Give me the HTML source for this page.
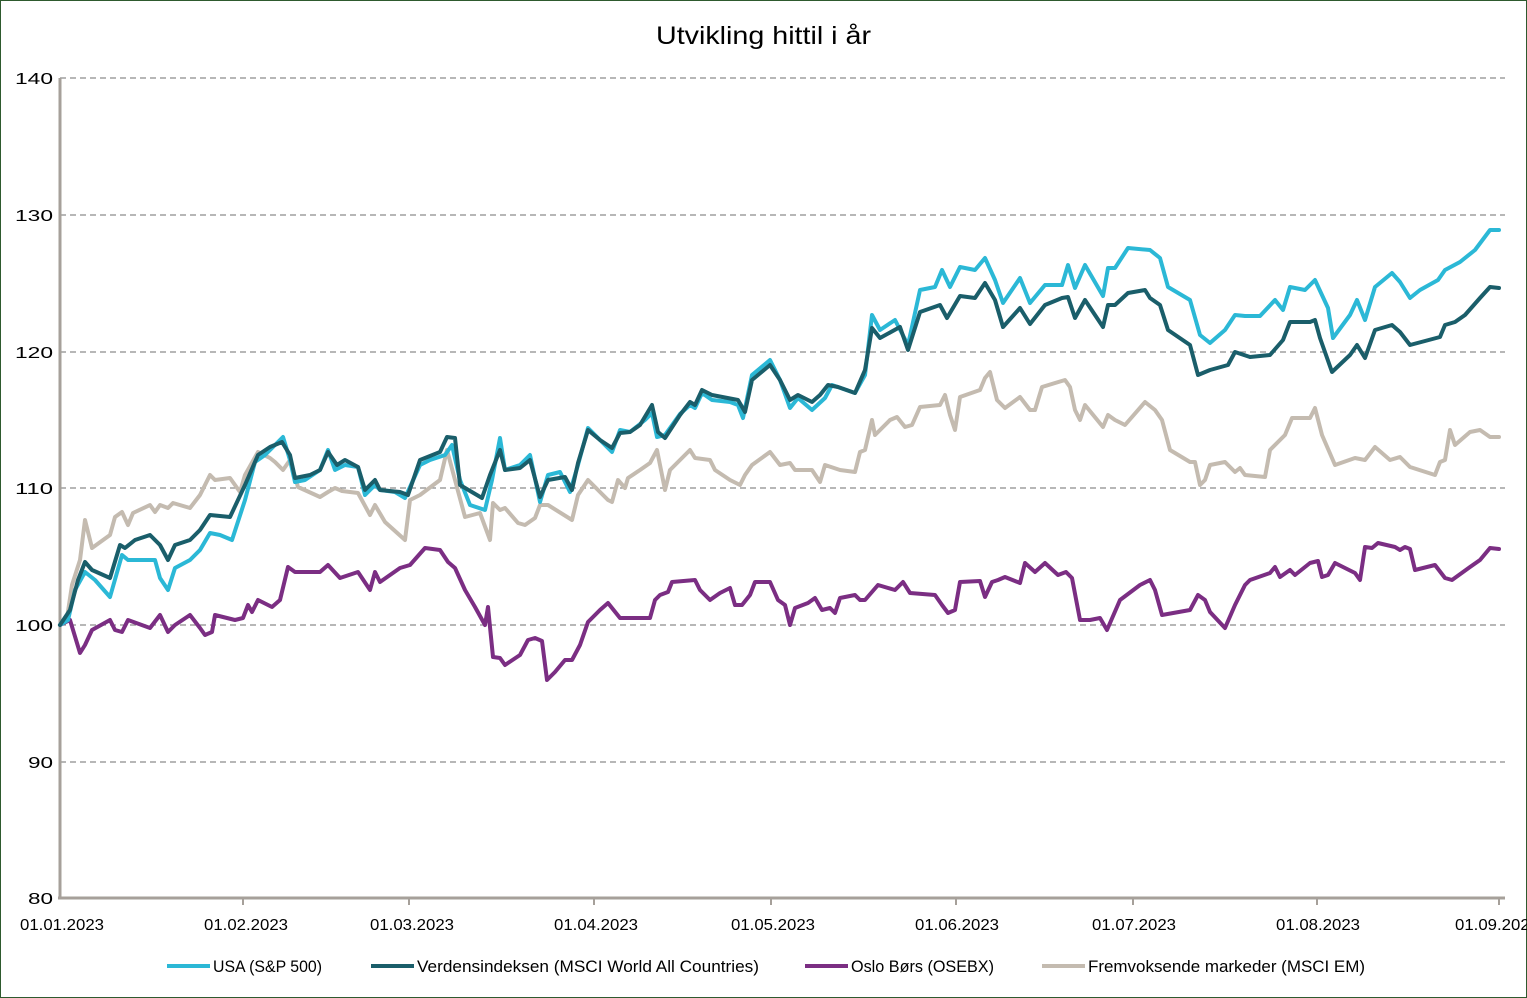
<!DOCTYPE html>
<html><head><meta charset="utf-8"><style>
html,body{margin:0;padding:0;background:#fff}
svg{display:block;font-family:"Liberation Sans",sans-serif}
</style></head><body>
<svg width="1527" height="998" viewBox="0 0 1527 998">
<rect x="0.5" y="0.5" width="1526" height="997" fill="#fff" stroke="#2e5a2e" stroke-width="1"/>
<text x="656" y="44" font-size="25" textLength="215" lengthAdjust="spacingAndGlyphs" fill="#000">Utvikling hittil i år</text>
<g stroke="#8c8c8c" stroke-width="1.2" stroke-dasharray="6,4">
<line x1="60" y1="78" x2="1505" y2="78"/><line x1="60" y1="215" x2="1505" y2="215"/>
<line x1="60" y1="352" x2="1505" y2="352"/><line x1="60" y1="488" x2="1505" y2="488"/>
<line x1="60" y1="625" x2="1505" y2="625"/><line x1="60" y1="762" x2="1505" y2="762"/>
</g>
<g stroke="#a6a09a" stroke-width="3"><line x1="60" y1="78" x2="60" y2="899"/><line x1="58" y1="898" x2="1505" y2="898"/></g>
<g stroke="#a6a09a" stroke-width="2">
<line x1="243" y1="898" x2="243" y2="905"/><line x1="409" y1="898" x2="409" y2="905"/><line x1="594" y1="898" x2="594" y2="905"/><line x1="771" y1="898" x2="771" y2="905"/><line x1="956" y1="898" x2="956" y2="905"/><line x1="1133" y1="898" x2="1133" y2="905"/><line x1="1317" y1="898" x2="1317" y2="905"/><line x1="1499" y1="898" x2="1499" y2="905"/>
</g>
<g font-size="16" fill="#000">
<text x="15" y="84" textLength="38" lengthAdjust="spacingAndGlyphs">140</text><text x="15" y="221" textLength="38" lengthAdjust="spacingAndGlyphs">130</text><text x="15" y="358" textLength="38" lengthAdjust="spacingAndGlyphs">120</text><text x="15" y="494" textLength="38" lengthAdjust="spacingAndGlyphs">110</text><text x="15" y="631" textLength="38" lengthAdjust="spacingAndGlyphs">100</text><text x="28" y="768" textLength="25" lengthAdjust="spacingAndGlyphs">90</text><text x="28" y="904" textLength="25" lengthAdjust="spacingAndGlyphs">80</text>
</g>
<g font-size="16" fill="#000">
<text x="20" y="930" textLength="84" lengthAdjust="spacingAndGlyphs">01.01.2023</text><text x="204" y="930" textLength="84" lengthAdjust="spacingAndGlyphs">01.02.2023</text><text x="370" y="930" textLength="84" lengthAdjust="spacingAndGlyphs">01.03.2023</text><text x="554" y="930" textLength="84" lengthAdjust="spacingAndGlyphs">01.04.2023</text><text x="731" y="930" textLength="84" lengthAdjust="spacingAndGlyphs">01.05.2023</text><text x="915" y="930" textLength="84" lengthAdjust="spacingAndGlyphs">01.06.2023</text><text x="1092" y="930" textLength="84" lengthAdjust="spacingAndGlyphs">01.07.2023</text><text x="1276" y="930" textLength="84" lengthAdjust="spacingAndGlyphs">01.08.2023</text><text x="1455" y="930" textLength="84" lengthAdjust="spacingAndGlyphs">01.09.2023</text>
</g>
<g fill="none" stroke-width="4" stroke-linejoin="round" stroke-linecap="round">
<polyline stroke="#c4bbb0" points="60,625 67,618 72,585 80,560 85,520 92,548 110,535 115,517 122,512 128,525 133,513 150,505 155,512 160,505 168,508 173,503 190,508 200,495 210,475 215,480 230,478 240,492 245,475 258,452 270,458 275,462 283,470 290,460 298,487 320,497 328,492 335,488 342,491 358,493 370,515 375,505 385,522 405,540 410,500 420,495 440,480 447,450 455,480 465,517 480,513 490,540 493,503 500,510 505,508 518,523 525,525 535,518 540,505 548,505 572,520 578,495 588,480 600,492 608,500 612,502 618,480 625,488 628,478 640,470 650,463 657,450 665,490 670,470 680,460 690,450 695,458 710,460 715,470 730,480 740,485 745,475 752,465 770,452 780,465 790,463 795,470 812,470 820,482 825,465 840,470 855,472 860,452 865,450 872,420 875,435 890,420 897,417 905,427 912,425 920,407 940,405 945,395 950,415 955,430 960,397 980,390 985,378 990,372 997,400 1005,408 1020,397 1030,410 1035,410 1042,387 1065,380 1070,387 1075,410 1080,420 1085,405 1103,427 1108,415 1115,420 1125,425 1145,402 1155,410 1162,420 1170,450 1190,462 1195,462 1200,485 1205,480 1210,465 1225,462 1235,472 1240,468 1245,475 1265,477 1270,450 1285,435 1292,418 1310,418 1315,408 1322,435 1335,465 1355,458 1365,460 1375,447 1390,460 1400,457 1410,467 1435,475 1440,462 1445,460 1450,430 1455,445 1470,432 1480,430 1490,437 1499,437"/>
<polyline stroke="#7b2e83" points="60,625 70,620 80,653 85,645 92,630 110,620 115,630 122,632 128,620 150,628 160,615 168,632 175,625 190,615 200,628 205,635 212,632 215,615 235,620 243,618 248,605 252,612 258,600 272,607 280,600 288,567 295,572 320,572 328,565 340,578 358,572 370,590 375,572 380,582 390,575 400,568 410,565 425,548 440,550 448,562 455,568 465,590 475,607 485,625 488,607 493,657 500,658 505,665 520,655 528,640 535,638 542,641 547,680 555,672 565,660 572,660 580,645 588,622 600,610 608,603 620,618 650,618 655,600 660,595 668,592 672,582 695,580 700,590 710,600 720,593 730,588 735,605 742,605 750,595 755,582 770,582 778,600 785,605 790,625 795,608 808,603 815,598 822,610 830,608 835,613 840,598 855,595 860,600 865,600 878,585 895,590 903,582 910,593 935,595 942,605 948,613 955,610 960,582 980,581 985,597 992,582 998,580 1005,577 1020,583 1025,563 1035,572 1045,563 1058,575 1066,572 1072,578 1080,620 1090,620 1100,618 1107,630 1120,600 1140,585 1150,580 1155,590 1162,615 1190,610 1198,595 1205,600 1210,612 1225,628 1235,605 1245,585 1250,580 1270,573 1275,567 1280,577 1290,570 1295,575 1310,563 1318,561 1322,577 1328,575 1335,563 1355,573 1360,580 1365,547 1372,548 1378,543 1395,547 1400,550 1405,547 1410,549 1415,570 1435,565 1445,578 1452,580 1470,567 1480,560 1490,548 1499,549"/>
<polyline stroke="#2bb8d6" points="60,625 68,620 75,590 85,572 95,580 110,597 122,555 128,560 155,560 160,578 168,590 175,568 190,560 200,550 210,533 220,535 232,540 245,500 255,462 265,455 275,445 283,437 290,460 295,482 305,480 320,470 328,450 335,470 345,465 358,467 365,495 375,485 380,490 395,492 405,498 420,465 430,460 445,455 452,445 460,480 470,505 485,510 492,480 500,438 505,470 520,465 530,455 540,502 548,475 560,472 570,492 578,465 588,428 600,440 612,452 620,430 630,432 645,420 652,413 657,437 665,435 680,414 690,405 695,408 702,393 712,400 730,402 738,405 743,418 752,375 770,360 780,380 790,408 798,398 812,410 825,398 832,385 855,393 865,375 872,315 880,330 895,320 908,345 920,290 935,287 942,270 950,287 960,267 975,270 985,258 995,280 1003,303 1020,278 1030,303 1045,285 1062,285 1068,265 1075,288 1085,265 1103,296 1108,268 1115,268 1128,248 1150,250 1160,258 1168,287 1190,300 1200,335 1210,343 1225,330 1235,315 1245,316 1260,316 1275,300 1283,310 1290,287 1305,290 1315,280 1328,308 1333,338 1350,315 1357,300 1365,320 1375,287 1392,273 1400,282 1410,298 1420,290 1438,280 1445,270 1460,262 1475,250 1490,230 1499,230"/>
<polyline stroke="#1a5e6a" points="60,625 70,610 78,580 85,562 92,570 110,578 120,545 125,548 135,540 150,535 160,545 168,560 175,545 190,540 200,530 210,515 230,517 245,485 258,455 270,447 282,442 290,455 295,478 310,475 320,470 328,452 337,465 345,460 358,467 365,490 375,480 380,490 400,492 408,495 420,460 440,452 447,437 455,438 460,485 482,498 490,475 500,450 505,470 520,468 530,460 540,497 548,480 565,477 572,490 578,463 588,430 600,440 612,448 620,433 630,432 640,425 652,405 658,432 665,438 680,415 690,402 695,405 702,390 712,395 738,400 745,412 752,380 770,365 780,380 790,400 798,395 812,402 820,395 828,385 838,387 855,393 865,370 872,328 880,338 900,327 908,350 920,312 940,305 947,318 960,296 975,298 985,283 995,300 1003,327 1020,308 1030,324 1045,305 1062,298 1068,297 1075,318 1085,300 1103,327 1108,305 1115,305 1128,293 1145,290 1150,298 1160,305 1168,330 1190,345 1198,375 1210,370 1228,365 1235,352 1250,357 1270,355 1283,340 1290,322 1310,322 1315,320 1320,338 1332,372 1350,355 1357,345 1365,358 1375,330 1392,325 1400,332 1410,345 1440,337 1445,325 1455,322 1465,315 1480,298 1490,287 1499,288"/>
</g>
<g stroke-width="4">
<line x1="167" y1="966" x2="210" y2="966" stroke="#2bb8d6"/>
<line x1="371" y1="966" x2="414" y2="966" stroke="#1a5e6a"/>
<line x1="805" y1="966" x2="848" y2="966" stroke="#7b2e83"/>
<line x1="1042" y1="966" x2="1085" y2="966" stroke="#c4bbb0"/>
</g>
<g font-size="17" fill="#000">
<text x="213" y="972" textLength="109" lengthAdjust="spacingAndGlyphs">USA (S&amp;P 500)</text>
<text x="417" y="972" textLength="342" lengthAdjust="spacingAndGlyphs">Verdensindeksen (MSCI World All Countries)</text>
<text x="851" y="972" textLength="143" lengthAdjust="spacingAndGlyphs">Oslo Børs (OSEBX)</text>
<text x="1088" y="972" textLength="277" lengthAdjust="spacingAndGlyphs">Fremvoksende markeder (MSCI EM)</text>
</g>
</svg>
</body></html>
